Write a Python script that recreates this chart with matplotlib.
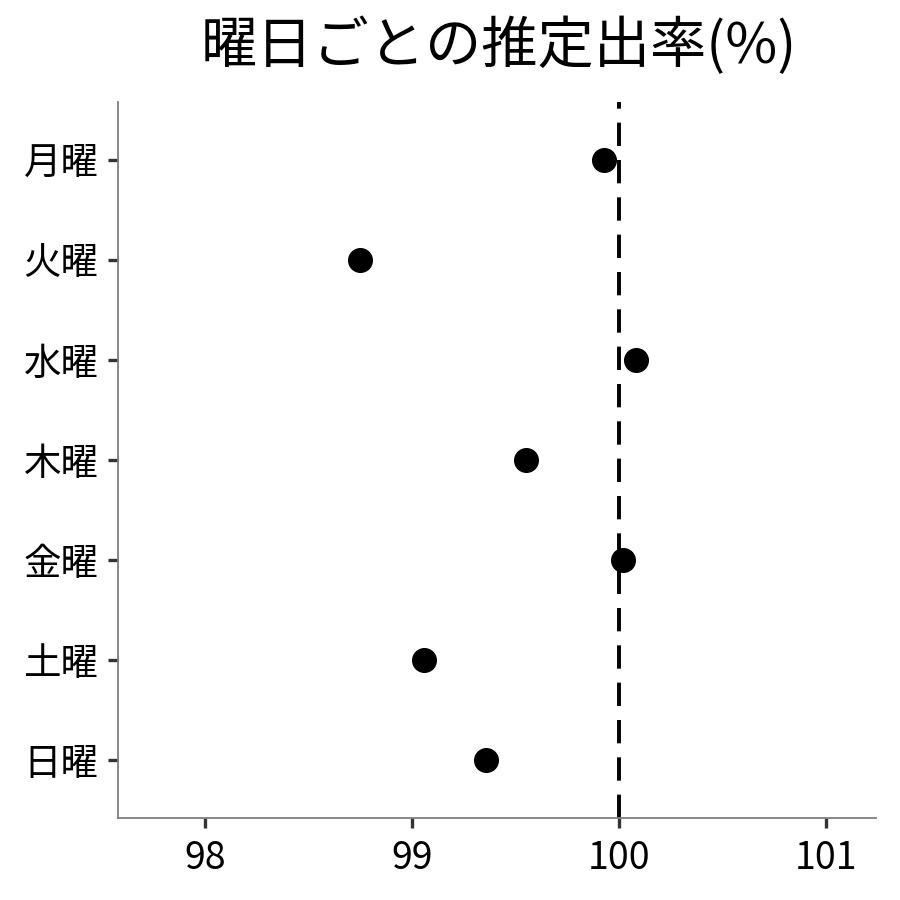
import matplotlib
matplotlib.use('Agg')
import matplotlib.pyplot as plt

plt.rcParams['font.family'] = ['Noto Sans CJK JP', 'DejaVu Sans']

days = ['月曜', '火曜', '水曜', '木曜', '金曜', '土曜', '日曜']
rates = [99.93, 98.75, 100.08, 99.55, 100.02, 99.06, 99.36]
ref_line = 100
x_ticks = [98, 99, 100, 101]


def main():
    fig = plt.figure(figsize=(9, 9), dpi=100)
    ax = fig.add_axes([0.131, 0.091, 0.842, 0.796])

    ypos = list(range(len(days), 0, -1))
    ax.plot(rates, ypos, 'o', color='black', markersize=17, zorder=3)
    ax.axvline(ref_line, color='black', linewidth=2.8, linestyle=(0, (6, 3.6)), zorder=2)

    ax.set_yticks(ypos)
    ax.set_yticklabels(days)
    ax.set_xticks(x_ticks)
    ax.set_xlim(97.58, 101.24)
    ax.set_ylim(0.42, 7.58)

    for side in ['top', 'right']:
        ax.spines[side].set_visible(False)
    for side in ['left', 'bottom']:
        ax.spines[side].set_color('#7f7f7f')
        ax.spines[side].set_linewidth(1.3)

    ax.tick_params(axis='both', length=7, width=2.4, color='#333333', labelcolor='black')
    ax.tick_params(axis='y', labelsize=27, pad=7)
    ax.tick_params(axis='x', labelsize=27, pad=8)

    fig.text(0.554, 0.948, '曜日ごとの推定出率(%)', ha='center', va='center', fontsize=40.5)

    fig.savefig('out.png', dpi=100)


if __name__ == '__main__':
    main()
